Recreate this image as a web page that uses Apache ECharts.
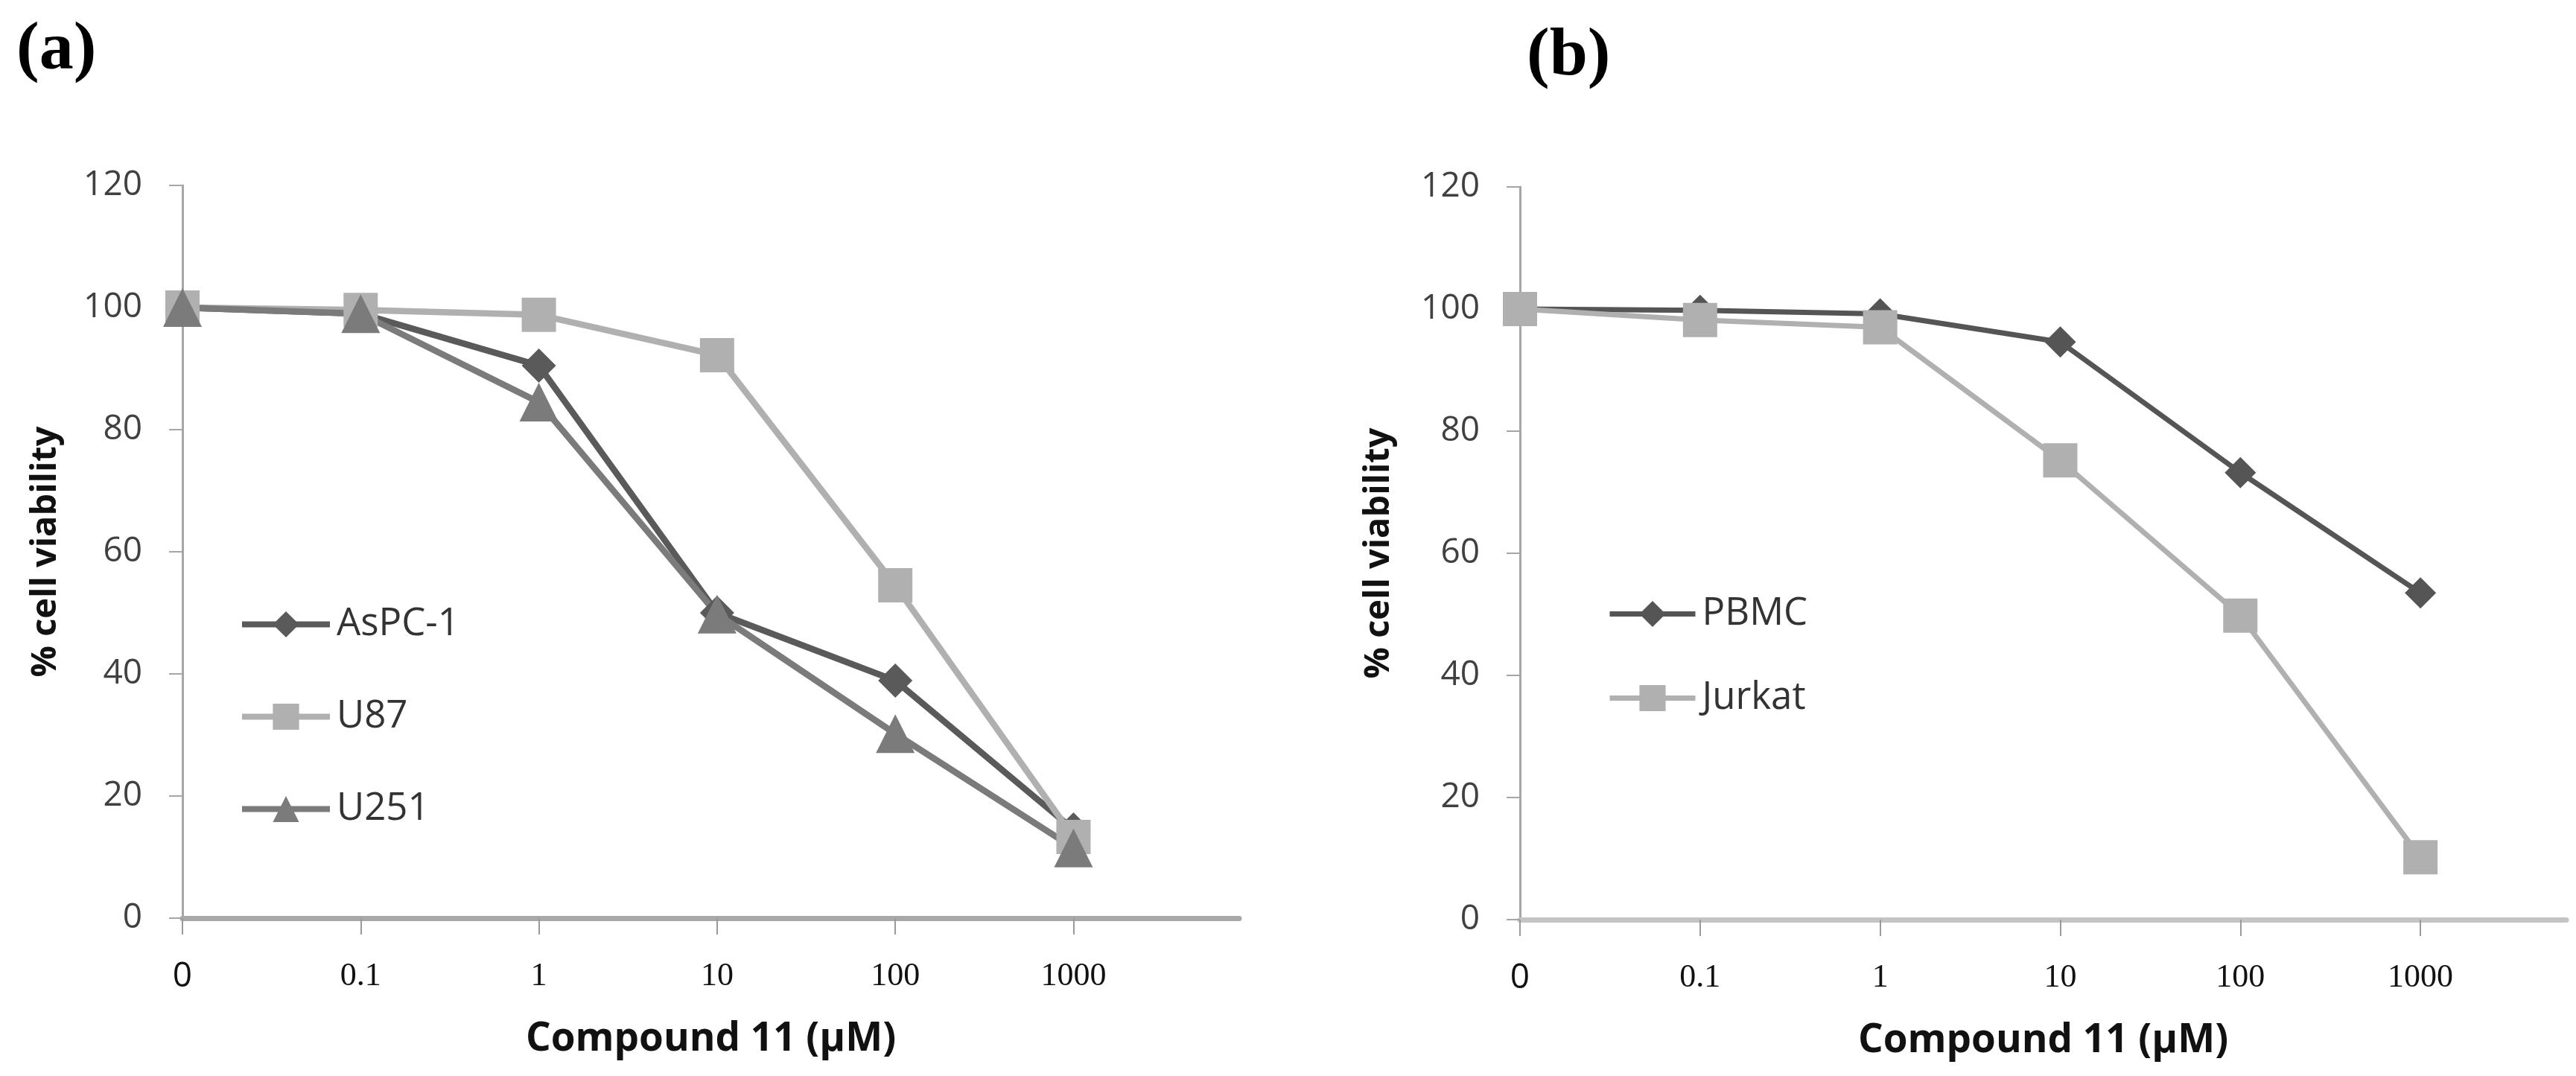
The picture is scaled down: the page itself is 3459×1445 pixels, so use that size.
<!DOCTYPE html>
<html>
<head>
<meta charset="utf-8">
<script src="https://cdn.jsdelivr.net/npm/echarts@6/dist/echarts.min.js"></script>
<style>
  html, body { margin: 0; padding: 0; background: #fff; }
  #chart { width: 3459px; height: 1445px; }
</style>
</head>
<body>
<div id="chart"></div>
<script>
// dose labels on the x axis (µM), one per position 0..5
var doses = ["0", "0.1", "1", "10", "100", "1000"];
// panel (a)
var aspc1 = [100, 99, 90.5, 50, 38.9, 14.5];
var u87 = [100, 99.6, 98.8, 92.2, 54.5, 13.3];
var u251 = [100, 99, 84.5, 49.8, 30.2, 11.5];
// panel (b)
var pbmc = [100, 99.8, 99.2, 94.6, 73.2, 53.5];
var jurkat = [100, 98.2, 97, 75.2, 49.8, 10.2];

var tickPos = doses.map(function (d, i) { return i; });

// turn a value list into [position, value] points
function pts(arr) {
  return arr.map(function (v, i) { return [i, v]; });
}

function xAxisOpt(gridIndex, max, lineColor) {
  return {
    type: "value",
    gridIndex: gridIndex,
    min: 0,
    max: max,
    name: "Compound 11 (\u03bcM)",
    nameLocation: "middle",
    nameGap: 136,
    nameTextStyle: {
      fontFamily: "Open Sans",
      fontWeight: "bold",
      fontSize: 53,
      color: "#111",
      verticalAlign: "top"
    },
    splitLine: { show: false },
    axisLine: { lineStyle: { color: lineColor, width: 7 } },
    axisTick: {
      customValues: tickPos,
      length: 22,
      lineStyle: { color: "#9a9a9a", width: 2 }
    },
    axisLabel: {
      customValues: tickPos,
      margin: 56,
      formatter: function (v) {
        return v === 0 ? "{s|0}" : "{t|" + doses[v] + "}";
      },
      rich: {
        s: { fontFamily: "Open Sans", fontSize: 46, color: "#111" },
        t: { fontFamily: "Liberation Serif", fontSize: 44, color: "#111" }
      }
    }
  };
}

function yAxisOpt(gridIndex, gap) {
  return {
    type: "value",
    gridIndex: gridIndex,
    min: 0,
    max: 120,
    interval: 20,
    name: "% cell viability",
    nameLocation: "middle",
    nameRotate: 90,
    nameGap: gap,
    nameTextStyle: {
      fontFamily: "Open Sans",
      fontWeight: "bold",
      fontSize: 47,
      color: "#111"
    },
    splitLine: { show: false },
    axisLine: { show: true, lineStyle: { color: "#a6a6a6", width: 3 } },
    axisTick: { show: true, length: 18, lineStyle: { color: "#a6a6a6", width: 2 } },
    axisLabel: {
      margin: 54,
      fontFamily: "Open Sans",
      fontSize: 46,
      color: "#404040"
    }
  };
}

function lineSeries(name, arr, color, symbol, size, width, xi) {
  return {
    name: name,
    type: "line",
    xAxisIndex: xi,
    yAxisIndex: xi,
    data: pts(arr),
    symbol: symbol,
    symbolSize: size,
    showAllSymbol: true,
    color: color,
    lineStyle: { color: color, width: width, join: "round" },
    itemStyle: { color: color, borderWidth: 0 },
    emphasis: { disabled: true },
    z: 2
  };
}

var legendText = { fontFamily: "Open Sans", fontSize: 51, color: "#333", padding: [0, 0, 0, 4] };

var chart = echarts.init(document.getElementById("chart"), null, { renderer: "canvas" });

var option = {
  backgroundColor: "#fff",
  animation: false,
  graphic: [
    {
      type: "text", left: 22, top: 22,
      style: { text: "(a)", fontFamily: "Liberation Serif", fontWeight: "bold", fontSize: 92, fill: "#000" }
    },
    {
      type: "text", left: 2050, top: 30,
      style: { text: "(b)", fontFamily: "Liberation Serif", fontWeight: "bold", fontSize: 92, fill: "#000" }
    }
  ],
  grid: [
    { left: 245, top: 249, width: 1419, height: 984 },
    { left: 2041, top: 251, width: 1405, height: 984 }
  ],
  xAxis: [xAxisOpt(0, 5.93, "#a8a8a8"), xAxisOpt(1, 5.81, "#c4c4c4")],
  yAxis: [yAxisOpt(0, 160), yAxisOpt(1, 166)],
  legend: [
    {
      data: ["AsPC-1", "U87", "U251"],
      orient: "vertical",
      left: 316,
      top: 808,
      itemWidth: 118,
      itemHeight: 44,
      itemGap: 73,
      selectedMode: false,
      lineStyle: { width: 8 },
      textStyle: legendText
    },
    {
      data: ["PBMC", "Jurkat"],
      orient: "vertical",
      left: 2153,
      top: 794,
      itemWidth: 115,
      itemHeight: 44,
      itemGap: 62,
      selectedMode: false,
      lineStyle: { width: 7 },
      textStyle: legendText
    }
  ],
  series: [
    lineSeries("AsPC-1", aspc1, "#5a5a5a", "diamond", 46, 8.5, 0),
    lineSeries("U87", u87, "#b0b0b0", "rect", 46, 8.5, 0),
    lineSeries("U251", u251, "#7b7b7b", "triangle", 52, 8.5, 0),
    lineSeries("PBMC", pbmc, "#555555", "diamond", 42, 7, 1),
    lineSeries("Jurkat", jurkat, "#b0b0b0", "rect", 46, 7, 1)
  ]
};

chart.setOption(option);
</script>
</body>
</html>
